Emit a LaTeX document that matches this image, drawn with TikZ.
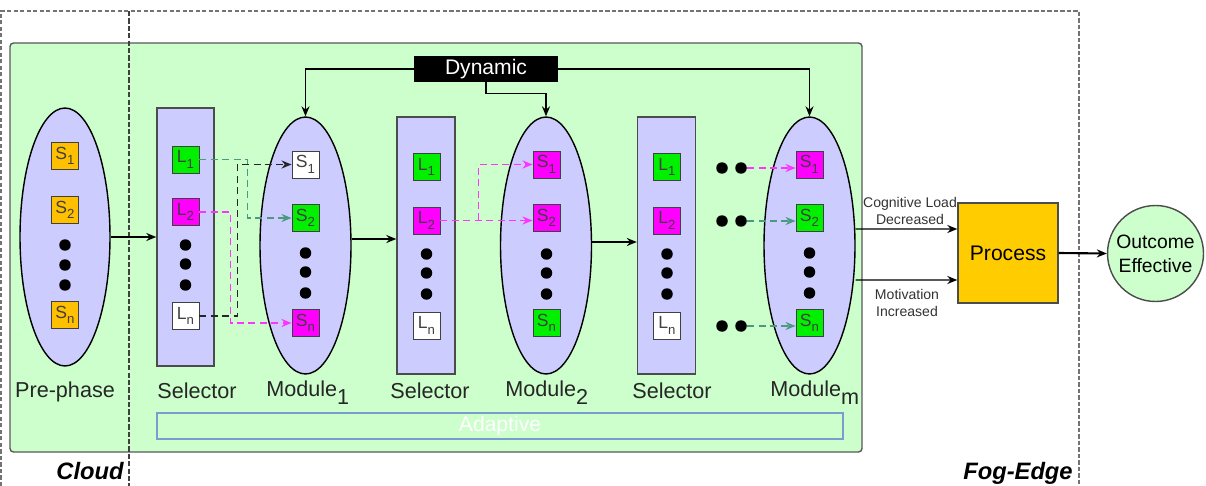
\documentclass[tikz,border=0pt]{standalone}
\usepackage{fontspec}
\setmainfont{Liberation Sans}
\usepackage{tikz}
\usetikzlibrary{arrows.meta}
\usetikzlibrary{shapes.geometric}
\definecolor{palegreen}{HTML}{CCFFCC}
\definecolor{lavender}{HTML}{CCCCFF}
\definecolor{amber}{HTML}{FFC000}
\definecolor{gold}{HTML}{FFCC00}
\definecolor{lime}{HTML}{00F000}
\definecolor{fuchsia}{HTML}{FF00FF}
\definecolor{dashteal}{HTML}{4A9A80}
\definecolor{dashpink}{HTML}{FF33FF}
\definecolor{adaptblue}{HTML}{7A9CCF}
\newcommand{\sqlbl}[2]{#1\raisebox{-0.6ex}{\fontsize{7.5}{7.5}\selectfont #2}}
\newcommand{\modlbl}[1]{Module\raisebox{-5pt}{#1}}

\begin{document}
\begin{tikzpicture}[x=0.02cm,y=-0.02cm,
    sq/.style={draw=black!75,line width=0.5pt,minimum size=0.54cm,inner sep=0pt,text=black!75,font=\fontsize{10}{10}\selectfont},
    blob/.style={ellipse,draw=black,line width=0.8pt,fill=lavender,minimum width=1.82cm,minimum height=5.14cm,inner sep=0pt},
    panel/.style={rectangle,draw=black!70,line width=0.8pt,fill=lavender,minimum width=1.16cm,minimum height=5.14cm,inner sep=0pt},
    blackdot/.style={circle,fill=black,inner sep=0pt,minimum size=0.23cm},
    flow/.style={-{Stealth[length=0.2cm,width=0.16cm]},line width=0.8pt},
    dashflow/.style={-{Stealth[length=0.2cm,width=0.16cm]},line width=1pt,dash pattern=on 4pt off 2.5pt},
    caption/.style={font=\fontsize{12.3}{14}\selectfont,text=black!85,inner sep=0pt},
    note/.style={font=\fontsize{8}{9.7}\selectfont,text=black!80,align=center,inner sep=0pt}
  ]
  \useasboundingbox (0,0) rectangle (1206,486);

  % Cloud and Fog-Edge regions
  \draw[fill=palegreen,draw=black!65,line width=0.8pt,rounded corners=2pt] (10,43) rectangle (862,452);%
  \draw[dash pattern=on 2.5pt off 1.2pt,draw=black!55,line width=0.6pt] (1,486) -- (1,11) -- (1079,11) -- (1079,486);%
  \draw[dash pattern=on 3pt off 1.2pt,draw=black!75,line width=0.6pt] (129,11) -- (129,486);%

  % Pre-phase
  \node[blob,minimum width=1.8cm,minimum height=5.16cm] (pre) at (65,237) {};%
  \node[sq,fill=amber] (pS1) at (65,156) {\sqlbl{S}{1}};%
  \node[sq,fill=amber] (pS2) at (65,210) {\sqlbl{S}{2}};%
  \foreach \y in {245,265,285} \node[blackdot] (pd\y) at (65,\y) {};%
  \node[sq,fill=amber] (pSn) at (65,315) {\sqlbl{S}{n}};%
  \node[caption,anchor=base] (preL) at (65,397) {Pre-phase};%

  % Selector 1
  \node[panel,minimum width=1.14cm,minimum height=5.16cm] (sel1) at (185.5,237) {};%
  \node[sq,fill=lime] (L1a) at (185.5,159.5) {\sqlbl{L}{1}};%
  \node[sq,fill=fuchsia] (L2a) at (185.5,212) {\sqlbl{L}{2}};%
  \foreach \y in {245,264,285} \node[blackdot] (sad\y) at (185.5,\y) {};%
  \node[sq,fill=white] (Lna) at (185.5,316) {\sqlbl{L}{n}};%
  \node[caption,anchor=base] (sel1L) at (197,398) {Selector};%

  % Module 1
  \node[blob] (mod1) at (305.5,245.5) {};%
  \node[sq,fill=white] (S1a) at (305.5,164.5) {\sqlbl{S}{1}};%
  \node[sq,fill=lime] (S2a) at (305.5,218) {\sqlbl{S}{2}};%
  \foreach \y in {253,272,293} \node[blackdot] (mad\y) at (305.5,\y) {};%
  \node[sq,fill=fuchsia] (Sna) at (305.5,323) {\sqlbl{S}{n}};%
  \node[caption,anchor=base west] (mod1L) at (266,396) {\modlbl{1}};%

  % Selector 2
  \node[panel] (sel2) at (426,245.5) {};%
  \node[sq,fill=lime] (L1b) at (426.5,167) {\sqlbl{L}{1}};%
  \node[sq,fill=fuchsia] (L2b) at (426.5,220.5) {\sqlbl{L}{2}};%
  \foreach \y in {254,273,294} \node[blackdot] (sbd\y) at (426.5,\y) {};%
  \node[sq,fill=white] (Lnb) at (426.5,325.5) {\sqlbl{L}{n}};%
  \node[caption,anchor=base] (sel2L) at (430,398) {Selector};%

  % Module 2
  \node[blob] (mod2) at (546,245.5) {};%
  \node[sq,fill=fuchsia] (S1b) at (546.5,164.5) {\sqlbl{S}{1}};%
  \node[sq,fill=fuchsia] (S2b) at (546.5,218) {\sqlbl{S}{2}};%
  \foreach \y in {254,273,294} \node[blackdot] (mbd\y) at (546.5,\y) {};%
  \node[sq,fill=lime] (Snb) at (546.5,323) {\sqlbl{S}{n}};%
  \node[caption,anchor=base west] (mod2L) at (505,396) {\modlbl{2}};%

  % Selector 3
  \node[panel] (sel3) at (666.5,245.5) {};%
  \node[sq,fill=lime] (L1c) at (667,167) {\sqlbl{L}{1}};%
  \node[sq,fill=fuchsia] (L2c) at (667,220.5) {\sqlbl{L}{2}};%
  \foreach \y in {254,273,294} \node[blackdot] (scd\y) at (667,\y) {};%
  \node[sq,fill=white] (Lnc) at (667,325.5) {\sqlbl{L}{n}};%
  \node[caption,anchor=base] (sel3L) at (672,398) {Selector};%

  % Module m
  \node[blob] (modm) at (809.5,245.5) {};%
  \node[sq,fill=fuchsia] (mS1) at (809.5,164.5) {\sqlbl{S}{1}};%
  \node[sq,fill=lime] (mS2) at (809.5,218) {\sqlbl{S}{2}};%
  \foreach \y in {253,272,293} \node[blackdot] (mmd\y) at (809.5,\y) {};%
  \node[sq,fill=lime] (mSn) at (809.5,323) {\sqlbl{S}{n}};%
  \node[caption,anchor=base west] (modmL) at (770,396) {\modlbl{m}};%
  \foreach \r/\y in {1/168,2/221,n/326} {%
    \node[blackdot] (mda\r) at (722,\y) {};%
    \node[blackdot] (mdb\r) at (741,\y) {};%
  }

  % Adaptive band
  \node[draw=adaptblue,line width=0.7pt,minimum width=13.72cm,minimum height=0.52cm,inner sep=0pt,text=white,font=\fontsize{12}{14}\selectfont] (adapt) at (500,426) {Adaptive};%

  % Dynamic
  \node[fill=black,text=white,minimum width=2.88cm,minimum height=0.52cm,inner sep=0pt,font=\fontsize{12}{14}\selectfont] (dyn) at (486,69) {Dynamic};%
  \draw[flow] (dyn.west) -| (mod1.north);%
  \draw[flow] (dyn.east) -| (modm.north);%
  \draw[flow] (dyn.south) -- ++(0,11) -| (mod2.north);%

  % Main flow
  \draw[flow] (pre.east) -- (sel1.west);%
  \draw[flow] ([yshift=0.13cm]mod1.east) -- ([yshift=0.13cm]sel2.west);%
  \draw[flow] ([yshift=0.07cm]mod2.east) -- ([yshift=0.07cm]sel3.west);%

  % Selections
  \draw[dashflow,dashteal] (L1a.east) -- ++(48,0) |- (S2a.west);%
  \draw[dashflow,dashpink] (L2a.east) -- ++(31,0) |- (Sna.west);%
  \draw[dashflow,black!85] (Lna.east) -- ++(38,0) |- (S1a.west);%
  \draw[dashflow,dashpink] (L2b.east) -- (L2b.east -| S2b.west);%
  \draw[dashflow,dashpink] ([xshift=0.76cm]L2b.east) |- (S1b.west);%
  \draw[dashflow,dashpink] (mdb1.east) -- (mdb1.east -| mS1.west);%
  \draw[dashflow,dashteal] (mdb2.east) -- (mdb2.east -| mS2.west);%
  \draw[dashflow,dashteal] (mdbn.east) -- (mdbn.east -| mSn.west);%

  % Process and outcome
  \node[draw=black!70,line width=0.8pt,fill=gold,minimum size=2cm,inner sep=0pt,font=\fontsize{12}{14}\selectfont] (proc) at (1008,253) {Process};%
  \node[circle,draw=black!70,line width=0.8pt,fill=palegreen,minimum size=1.92cm,inner sep=0pt,align=center,font=\fontsize{11}{13.7}\selectfont] (outc) at (1155.5,253.5) {Outcome\\Effective};%
  \draw[flow] ([yshift=0.33cm]modm.east) -- ([yshift=0.48cm]proc.west);%
  \draw[flow] ([yshift=-0.69cm]modm.east) -- ([yshift=-0.54cm]proc.west);%
  \draw[flow,line width=1.2pt] (proc.east) -- (outc.west);%
  \node[note] (cogL) at (910,210.5) {Cognitive Load\\Decreased};%
  \node[note] (motL) at (907,303) {Motivation\\Increased};%

  % Region names
  \node[anchor=base east,inner sep=0pt,font=\fontsize{13.5}{16}\selectfont\bfseries\itshape] (cloudL) at (124,479) {Cloud};%
  \node[anchor=base east,inner sep=0pt,font=\fontsize{13.5}{16}\selectfont\bfseries\itshape] (fogL) at (1073,479) {Fog-Edge};%
\end{tikzpicture}
\end{document}
